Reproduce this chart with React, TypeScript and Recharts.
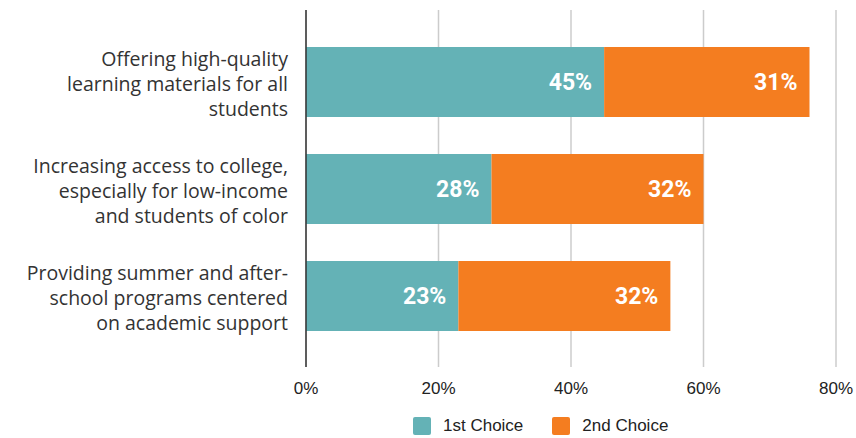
import { BarChart, Bar, XAxis, YAxis, CartesianGrid, Legend, LabelList } from 'recharts'

const categories = [
  'Offering high-quality\nlearning materials for all\nstudents',
  'Increasing access to college,\nespecially for low-income\nand students of color',
  'Providing summer and after-\nschool programs centered\non academic support',
]
const firstChoice = [45, 28, 23]
const secondChoice = [31, 32, 32]
const xTicks = [0, 20, 40, 60, 80]

const TEAL = '#64b2b6'
const ORANGE = '#f47d20'

const data = categories.map((name, i) => ({
  name,
  first: firstChoice[i],
  second: secondChoice[i],
}))

function CategoryTick({ x, y, payload }: any) {
  const lines = String(payload.value).split('\n')
  const lh = 25
  const start = -((lines.length - 1) * lh) / 2
  return (
    <text
      x={x - 10}
      y={y}
      textAnchor="end"
      fill="#333"
      fontFamily="'Open Sans', Lato, sans-serif"
      fontSize={19.5}
    >
      {lines.map((l, i) => (
        <tspan key={i} x={x - 10} y={y + start + i * lh + 2} dy="0.36em">
          {l}
        </tspan>
      ))}
    </text>
  )
}

function LegendBox() {
  const items = [
    { label: '1st Choice', color: TEAL },
    { label: '2nd Choice', color: ORANGE },
  ]
  return (
    <div style={{ width: 856, height: 30, display: 'flex', alignItems: 'center', paddingTop: 6, boxSizing: 'border-box' }}>
      <div style={{ display: 'flex', alignItems: 'center', marginLeft: 413 }}>
        {items.map((it) => (
          <div key={it.label} style={{ display: 'flex', alignItems: 'center', marginRight: 29 }}>
            <div style={{ width: 18, height: 18, background: it.color, borderRadius: 2, marginRight: 12 }} />
            <span style={{ fontFamily: "'Liberation Sans', Arial, sans-serif", fontSize: 17, color: '#222' }}>
              {it.label}
            </span>
          </div>
        ))}
      </div>
    </div>
  )
}

export default function App() {
  return (
    <div style={{ position: 'absolute', left: 0, top: 0, width: 856, height: 438, background: '#fff' }}>
      <BarChart
        width={856}
        height={438}
        data={data}
        layout="vertical"
        margin={{ top: 10, right: 20, left: 0, bottom: 0 }}
      >
        <CartesianGrid horizontal={false} stroke="#cccccc" strokeWidth={1.5} />
        <XAxis
          type="number"
          domain={[0, 80]}
          ticks={xTicks}
          tickFormatter={(v) => `${v}%`}
          axisLine={false}
          tickLine={false}
          tickMargin={9}
          height={41}
          interval={0}
          tick={{ fill: '#222', fontSize: 17, fontFamily: "'Liberation Sans', Arial, sans-serif" }}
        />
        <YAxis
          type="category"
          dataKey="name"
          width={306}
          tickLine={false}
          axisLine={{ stroke: '#333', strokeWidth: 1.5 }}
          padding={{ top: 18, bottom: 18 }}
          tick={<CategoryTick />}
        />
        <Legend
          verticalAlign="bottom"
          height={30}
          wrapperStyle={{ left: 0, width: 856 }}
          content={() => <LegendBox />}
        />
        <Bar dataKey="first" name="1st Choice" stackId="a" fill={TEAL} barSize={70} isAnimationActive={false}>
          <LabelList
            dataKey="first"
            position="insideRight"
            offset={12}
            formatter={(v: any) => `${v}%`}
            fill="#fff"
            fontSize={23}
            fontWeight={700}
            fontFamily="Roboto, sans-serif"
          />
        </Bar>
        <Bar dataKey="second" name="2nd Choice" stackId="a" fill={ORANGE} barSize={70} isAnimationActive={false}>
          <LabelList
            dataKey="second"
            position="insideRight"
            offset={12}
            formatter={(v: any) => `${v}%`}
            fill="#fff"
            fontSize={23}
            fontWeight={700}
            fontFamily="Roboto, sans-serif"
          />
        </Bar>
      </BarChart>
    </div>
  )
}
